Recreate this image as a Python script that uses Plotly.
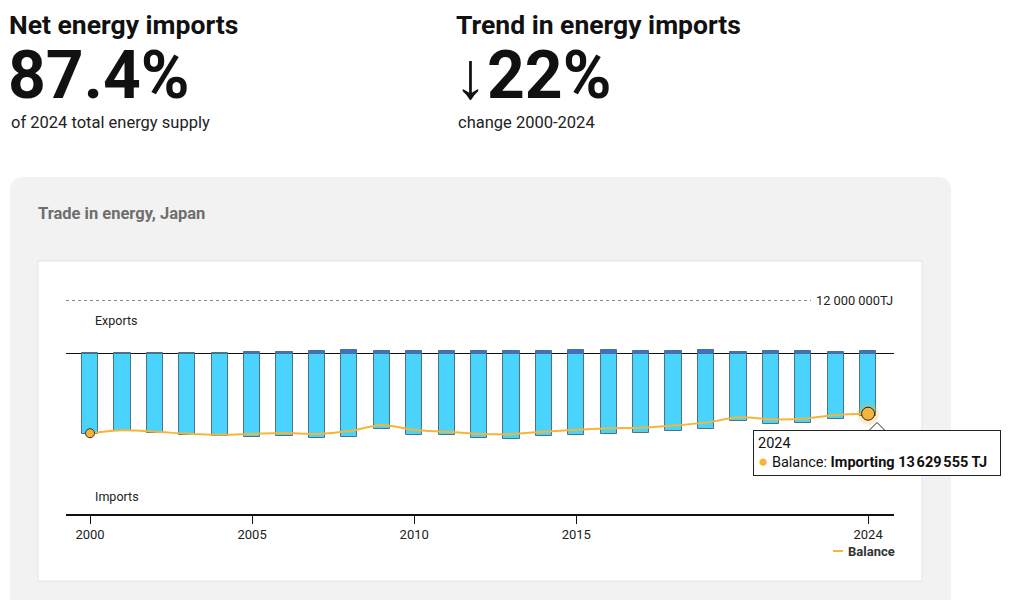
import plotly.graph_objects as go

W, H = 1015, 600

years = list(range(2000, 2025))
# values in million TJ
imports_mtj = [18.3, 17.5, 18.1, 18.5, 18.75, 18.85, 18.7, 19.1, 18.85, 17.2,
               18.35, 18.55, 19.15, 19.45, 18.75, 18.45, 18.15, 18.1, 17.45,
               17.0, 15.2, 15.95, 15.75, 14.8, 14.1]
exports_mtj = [0.15, 0.15, 0.15, 0.15, 0.15, 0.35, 0.35, 0.55, 0.8, 0.6,
               0.6, 0.6, 0.6, 0.6, 0.6, 0.8, 0.8, 0.6, 0.6,
               0.8, 0.35, 0.6, 0.6, 0.35, 0.47]
balance_mtj = [18.05, 17.4, 17.7, 18.15, 18.4, 18.2, 18.0, 18.2, 17.55, 16.2,
               17.3, 17.7, 18.2, 18.25, 17.7, 17.25, 16.95, 16.8, 16.3,
               15.65, 14.45, 14.9, 14.75, 13.9, 13.629555]
tick_years = [2000, 2005, 2010, 2015, 2024]
ref_line_tj = 12_000_000

imports_tj = [-v * 1e6 for v in imports_mtj]
exports_tj = [v * 1e6 for v in exports_mtj]
balance_tj = [-v * 1e6 for v in balance_mtj]

OFF = 8  # page body margin compensation


def px(x):
    return (x - OFF) / W


def py(y):
    return 1 - (y - OFF) / H


FONT = "Roboto"
ORANGE = "#F7B538"

fig = go.Figure()

fig.add_trace(go.Bar(
    x=years, y=imports_tj, width=0.5,
    marker=dict(color="#4AD4FD", line=dict(color="#4B7383", width=1)),
    showlegend=False, hoverinfo="skip", name="Imports"))
fig.add_trace(go.Bar(
    x=years, y=exports_tj, width=0.5,
    marker=dict(color="#3D6FCF", line=dict(color="#4B7383", width=1)),
    showlegend=False, hoverinfo="skip", name="Exports"))
fig.add_trace(go.Scatter(
    x=years, y=balance_tj, mode="lines",
    line=dict(color=ORANGE, width=2, shape="spline", smoothing=0.8),
    showlegend=False, name="Balance"))
# first point marker
fig.add_trace(go.Scatter(
    x=years[:1], y=balance_tj[:1], mode="markers",
    marker=dict(color=ORANGE, size=9, line=dict(color="#333333", width=1)),
    showlegend=False, hoverinfo="skip"))
# highlighted last point with halo
fig.add_trace(go.Scatter(
    x=years[-1:], y=balance_tj[-1:], mode="markers",
    marker=dict(color="rgba(247,181,56,0.25)", size=22),
    showlegend=False, hoverinfo="skip"))
fig.add_trace(go.Scatter(
    x=years[-1:], y=balance_tj[-1:], mode="markers",
    marker=dict(color=ORANGE, size=13, line=dict(color="#222222", width=1)),
    showlegend=False, hoverinfo="skip"))

x0p, x1p = 66, 894
ytop, ybot = 290, 514
zero_px = 353.5
scale = 4.417e-6  # px per TJ
y_hi = (zero_px - ytop) / scale
y_lo = -(ybot - zero_px) / scale

yr_per_px = 1 / 32.42
x_lo = 2000 + (x0p - 90) * yr_per_px
x_hi = 2000 + (x1p - 90) * yr_per_px

shapes = []
# gray card with rounded top corners
r = 14
cx0, cy0, cx1, cy1 = 10, 177, 951, 620
path = (f"M {px(cx0)},{py(cy1)} L {px(cx0)},{py(cy0 + r)} "
        f"Q {px(cx0)},{py(cy0)} {px(cx0 + r)},{py(cy0)} "
        f"L {px(cx1 - r)},{py(cy0)} Q {px(cx1)},{py(cy0)} {px(cx1)},{py(cy0 + r)} "
        f"L {px(cx1)},{py(cy1)} Z")
shapes.append(dict(type="path", xref="paper", yref="paper", path=path,
                   fillcolor="#F2F2F2", line=dict(width=0), layer="below"))
# white panel
shapes.append(dict(type="rect", xref="paper", yref="paper",
                   x0=px(38), x1=px(922), y0=py(581), y1=py(261),
                   fillcolor="white", line=dict(color="#E4E4E4", width=1),
                   layer="below"))
# dotted reference line
shapes.append(dict(type="line", xref="paper", yref="y",
                   x0=px(66), x1=px(811), y0=ref_line_tj, y1=ref_line_tj,
                   line=dict(color="#888888", width=1, dash="dot")))
# legend swatch
shapes.append(dict(type="line", xref="paper", yref="paper",
                   x0=px(833), x1=px(843), y0=py(551), y1=py(551),
                   line=dict(color=ORANGE, width=2)))
# tooltip pointer
tx = 877
shapes.append(dict(type="path", xref="paper", yref="paper",
                   path=(f"M {px(tx - 8)},{py(430.5)} L {px(tx)},{py(422.5)} "
                         f"L {px(tx + 8)},{py(430.5)} Z"),
                   fillcolor="white", line=dict(color="#222222", width=1)))

annotations = []


def text(x, y, s, size, color="#111111", weight="normal", xanchor="left",
         height=None, pad=1):
    d = dict(xref="paper", yref="paper", x=px(x), y=py(y), text=s,
             showarrow=False, xanchor=xanchor, yanchor="middle", borderpad=pad,
             font=dict(family=FONT, size=size, color=color, weight=weight))
    if height:
        d["height"] = height
    annotations.append(d)


text(8, 24.2, "Net energy imports", 26.5, weight="bold", pad=0)
text(6, 74.5, "87.4%", 66, weight="bold", height=56)
text(9, 123, "of 2024 total energy supply", 16.5, color="#222222")
text(455, 24.2, "Trend in energy imports", 26.5, weight="bold", pad=0)
text(452, 74.5, "↓22%", 66, weight="bold", height=56)
text(456, 123, "change 2000-2024", 16.5, color="#222222")
text(36, 213, "Trade in energy, Japan", 16.5, color="#6E6E6E", weight="bold")
text(93, 321, "Exports", 12.5, color="#222222")
text(93, 497, "Imports", 12.5, color="#222222")
text(895, 300, "12 000 000TJ", 12.8, color="#222222", xanchor="right")
text(846, 551, "Balance", 13, color="#333333", weight="bold")

# tooltip
annotations.append(dict(
    xref="paper", yref="paper", x=px(753), y=py(430), xanchor="left",
    yanchor="top", showarrow=False, align="left",
    text=(f"2024<br><span style='color:{ORANGE};font-size:17px'>●</span> Balance: "
          "<b>Importing 13\u202f629\u202f555 TJ</b>"),
    font=dict(family=FONT, size=14.5, color="#111111"),
    bgcolor="white", bordercolor="#222222", borderwidth=1, borderpad=4,
    width=238))

fig.update_layout(
    width=W, height=H, margin=dict(l=0, r=0, t=0, b=0),
    paper_bgcolor="white", plot_bgcolor="rgba(0,0,0,0)",
    barmode="relative", bargap=0,
    font=dict(family=FONT, size=12, color="#222222"),
    shapes=shapes, annotations=annotations,
    xaxis=dict(domain=[px(x0p), px(x1p)], range=[x_lo, x_hi],
               tickvals=tick_years, ticktext=[str(y) for y in tick_years],
               showgrid=False, zeroline=False, showline=True,
               linecolor="#111111", linewidth=1.5, ticks="outside",
               ticklen=8, tickcolor="#111111", tickwidth=1,
               tickfont=dict(family=FONT, size=13, color="#222222")),
    yaxis=dict(domain=[py(ybot), py(ytop)], range=[y_lo, y_hi],
               showgrid=False, showticklabels=False, zeroline=True,
               zerolinecolor="#111111", zerolinewidth=1, showline=False),
    showlegend=False,
)

fig.write_html("out.html")
